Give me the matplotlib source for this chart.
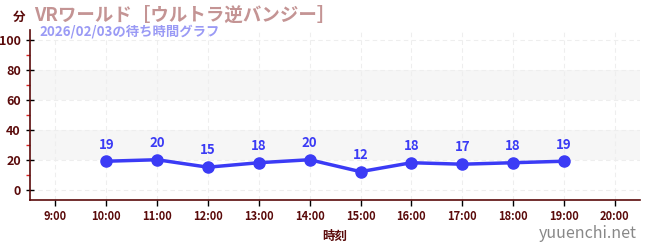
import matplotlib
matplotlib.use("Agg")
import matplotlib.pyplot as plt
from matplotlib.ticker import MultipleLocator

plt.rcParams['font.family'] = ['Noto Sans CJK JP', 'DejaVu Sans']

hours = [10, 11, 12, 13, 14, 15, 16, 17, 18, 19]
waits = [19, 20, 15, 18, 20, 12, 18, 17, 18, 19]
xtick_hours = list(range(9, 21))
xtick_labels = [f"{h}:00" for h in xtick_hours]
yticks = [0, 20, 40, 60, 80, 100]
title = "VRワールド［ウルトラ逆バンジー］"
subtitle = "2026/02/03の待ち時間グラフ"

axis_col = "#5a0a0a"
line_col = "#3b3bf5"

fig = plt.figure(figsize=(6.5, 2.5), dpi=100)
ax = fig.add_axes([0.046, 0.2, 0.939, 0.68])
ax.set_xlim(8.5, 20.5)
ax.set_ylim(-7, 107)

for lo, hi in [(20, 40), (60, 80)]:
    ax.axhspan(lo, hi, color="#f6f6f6", zorder=0, lw=0)

ax.set_xticks(xtick_hours)
ax.set_xticklabels(xtick_labels)
ax.set_yticks(yticks)
ax.yaxis.set_minor_locator(MultipleLocator(10))
ax.grid(True, which="major", color="#eeeeee", linestyle=(0, (4, 3)), lw=0.8, zorder=0)

for s in ["top", "right"]:
    ax.spines[s].set_visible(False)
for s in ["left", "bottom"]:
    ax.spines[s].set_color(axis_col)
    ax.spines[s].set_linewidth(1.2)

ax.tick_params(axis="y", which="major", colors="black", labelcolor=axis_col,
               labelsize=9, length=6, width=1, direction="inout")
ax.tick_params(axis="x", which="major", colors="black", labelcolor=axis_col,
               labelsize=8, length=4, width=1)
ax.tick_params(axis="y", which="minor", colors="#dd2222", length=3, width=1)
for lab in ax.get_xticklabels() + ax.get_yticklabels():
    lab.set_fontweight("bold")

ax.plot(hours, waits, color=line_col, lw=2.5, marker="o", ms=8, zorder=3)
for h, w in zip(hours, waits):
    ax.annotate(str(w), (h, w), xytext=(0, 7), textcoords="offset points",
                ha="center", va="bottom", color=line_col, fontsize=9.5,
                fontweight="bold")

ax.set_xlabel("時刻", color=axis_col, fontsize=9, fontweight="bold", labelpad=5)

fig.text(0.03, 0.93, "分", color=axis_col, fontsize=9, fontweight="bold",
         ha="center", va="center")
fig.text(0.052, 0.94, title, color="#c49494", fontsize=13.3, fontweight="bold",
         ha="left", va="center")
fig.text(0.06, 0.875, subtitle, color="#9a9af5", fontsize=9.6, fontweight="bold",
         ha="left", va="center")
fig.text(0.98, 0.065, "yuuenchi.net", color="#888888", fontsize=11.5,
         ha="right", va="center")

fig.savefig("out.png", dpi=100)
